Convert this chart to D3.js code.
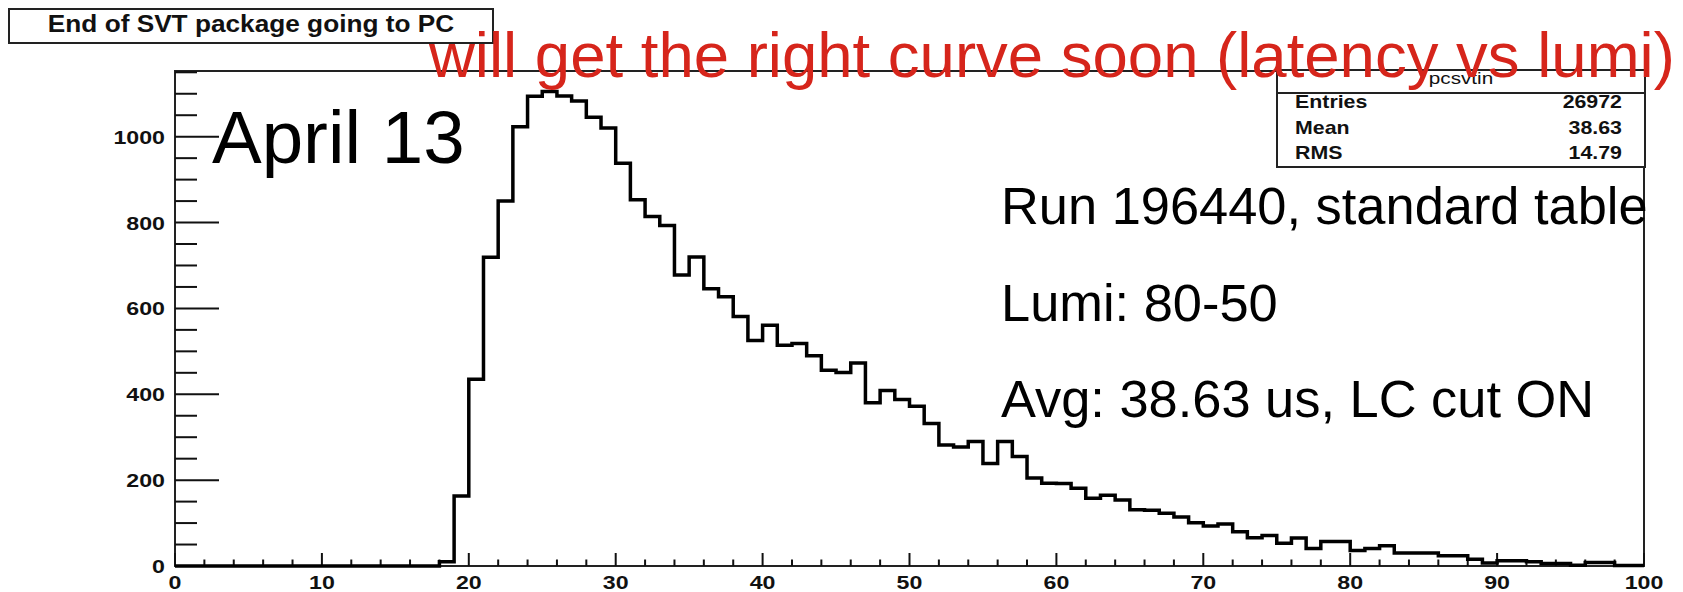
<!DOCTYPE html>
<html>
<head>
<meta charset="utf-8">
<script src="https://cdn.jsdelivr.net/npm/d3@7"></script>
<style>
  html, body { margin: 0; padding: 0; background: #fff; }
  svg { display: block; }
  text { font-family: "Liberation Sans", Arial, Helvetica, sans-serif; }
</style>
</head>
<body>
<svg id="chart" width="1683" height="592"></svg>
<script>
// ---- data ----
const binEdgesMin = 0;
const binEdgesMax = 100;
const binCounts = [
  0, 0, 0, 0, 0, 0, 0, 0, 0, 0,
  0, 0, 0, 0, 0, 0, 0, 0, 10, 163,
  435, 719, 850, 1023, 1094, 1105, 1095, 1083, 1045, 1020,
  938, 853, 814, 793, 678, 720, 646, 627, 581, 525,
  561, 514, 518, 490, 456, 451, 473, 380, 409, 388,
  372, 332, 282, 277, 290, 239, 290, 255, 205, 193,
  192, 181, 158, 165, 154, 131, 130, 123, 114, 101,
  93, 98, 80, 66, 71, 53, 65, 41, 57, 57,
  36, 41, 47, 30, 30, 30, 24, 24, 16, 7,
  12, 12, 10, 6, 6, 2, 8, 8, 1, 1
];
const xTickValues = [0, 10, 20, 30, 40, 50, 60, 70, 80, 90, 100];
const yTickValues = [0, 200, 400, 600, 800, 1000];
const yMax = 1153;
const histTitle = "End of SVT package going to PC";
const statsName = "pcsvtin";
const statsLabels = ["Entries", "Mean", "RMS"];
const statsValues = ["26972", "38.63", "14.79"];
const noteRed = "will get the right curve soon (latency vs lumi)";
const noteDate = "April 13";
const noteLines = ["Run 196440, standard table", "Lumi: 80-50", "Avg: 38.63 us, LC cut ON"];

// ---- layout ----
const svg = d3.select("#chart");
const L = 175, R = 1644, T = 71, B = 566;
const sx = 1.22; // horizontal stretch of the ROOT-rendered text

const x = d3.scaleLinear().domain([binEdgesMin, binEdgesMax]).range([L, R]);
const y = d3.scaleLinear().domain([0, yMax]).range([B, T]);

// frame
svg.append("rect")
  .attr("x", L).attr("y", T).attr("width", R - L).attr("height", B - T)
  .attr("fill", "none").attr("stroke", "#222").attr("stroke-width", 2);

// y axis ticks (major every 200, minor every 50)
const yMinor = d3.range(0, yMax + 1, 50);
svg.append("g").selectAll("line").data(yMinor).join("line")
  .attr("x1", L).attr("x2", d => L + (d % 200 === 0 ? 44 : 22))
  .attr("y1", d => y(d)).attr("y2", d => y(d))
  .attr("stroke", "#111").attr("stroke-width", 2);

svg.append("g").selectAll("text").data(yTickValues).join("text")
  .attr("transform", d => `translate(165,${y(d) + 7}) scale(${sx},1)`)
  .attr("text-anchor", "end")
  .attr("font-size", 19).attr("font-weight", "bold").attr("fill", "#111")
  .text(d => d);

// x axis ticks (major every 10, minor every 2)
const xMinor = d3.range(0, 101, 2);
svg.append("g").selectAll("line").data(xMinor).join("line")
  .attr("x1", d => x(d)).attr("x2", d => x(d))
  .attr("y1", B).attr("y2", d => B - (d % 10 === 0 ? 13 : 6.5))
  .attr("stroke", "#111").attr("stroke-width", 2);

svg.append("g").selectAll("text").data(xTickValues).join("text")
  .attr("transform", d => `translate(${x(d)},589) scale(${sx},1)`)
  .attr("text-anchor", "middle")
  .attr("font-size", 19).attr("font-weight", "bold").attr("fill", "#111")
  .text(d => d);

// histogram as a step line
const pts = binCounts.map((v, i) => [i, v]);
pts.push([binEdgesMax, binCounts[binCounts.length - 1]]);
const line = d3.line().x(d => x(d[0])).y(d => y(d[1])).curve(d3.curveStepAfter);
svg.append("path")
  .attr("d", line(pts))
  .attr("fill", "none").attr("stroke", "#000").attr("stroke-width", 3.5)
  .attr("stroke-linejoin", "miter");

// title box
svg.append("rect")
  .attr("x", 9).attr("y", 9).attr("width", 484).attr("height", 34)
  .attr("fill", "#fff").attr("stroke", "#222").attr("stroke-width", 2);
svg.append("text")
  .attr("transform", `translate(251,32) scale(1.14,1)`)
  .attr("text-anchor", "middle")
  .attr("font-size", 23).attr("font-weight", "bold").attr("fill", "#111")
  .text(histTitle);

// stats box
const sbL = 1277, sbR = 1645, sbT = 70, sbB = 167, sbH = 93;
svg.append("rect")
  .attr("x", sbL).attr("y", sbT).attr("width", sbR - sbL).attr("height", sbB - sbT)
  .attr("fill", "#fff").attr("stroke", "#222").attr("stroke-width", 2);
svg.append("line")
  .attr("x1", sbL).attr("x2", sbR).attr("y1", sbH).attr("y2", sbH)
  .attr("stroke", "#222").attr("stroke-width", 2);
svg.append("text")
  .attr("transform", `translate(${(sbL + sbR) / 2},84) scale(${sx},1)`)
  .attr("text-anchor", "middle").attr("font-size", 17).attr("fill", "#111")
  .text(statsName);
const rowY = [108, 134, 159];
svg.append("g").selectAll("text").data(statsLabels).join("text")
  .attr("transform", (d, i) => `translate(1295,${rowY[i]}) scale(${sx},1)`)
  .attr("font-size", 17.5).attr("font-weight", "bold").attr("fill", "#111")
  .text(d => d);
svg.append("g").selectAll("text").data(statsValues).join("text")
  .attr("transform", (d, i) => `translate(1622,${rowY[i]}) scale(${sx},1)`)
  .attr("text-anchor", "end")
  .attr("font-size", 17.5).attr("font-weight", "bold").attr("fill", "#111")
  .text(d => d);

// slide annotations
svg.append("text")
  .attr("x", 212).attr("y", 163)
  .attr("font-size", 74.5).attr("fill", "#000")
  .text(noteDate);

const noteBase = [224, 320.5, 417];
svg.append("g").selectAll("text").data(noteLines).join("text")
  .attr("x", 1001).attr("y", (d, i) => noteBase[i])
  .attr("font-size", 52.4).attr("fill", "#000")
  .text(d => d);

svg.append("text")
  .attr("x", 429).attr("y", 77)
  .attr("font-size", 63.5).attr("fill", "#d6251b")
  .text(noteRed);
</script>
</body>
</html>
